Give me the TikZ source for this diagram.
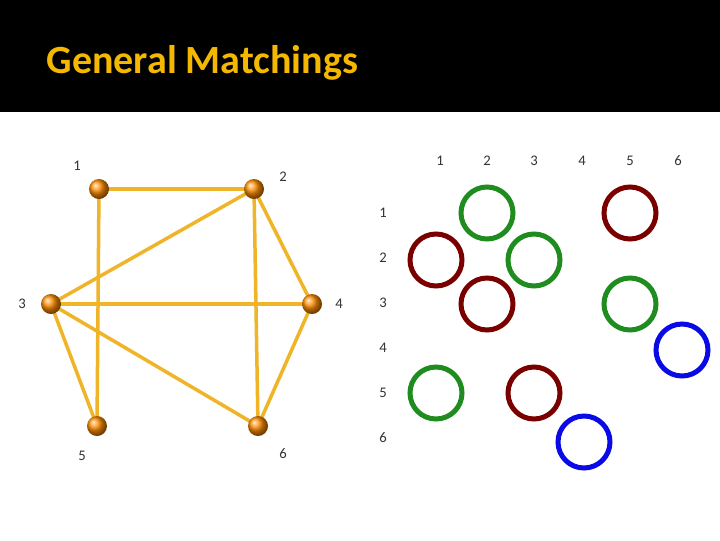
\documentclass[tikz,border=0pt]{standalone}
\usepackage{fontspec}
\setmainfont{Carlito}
\begin{document}
\begin{tikzpicture}[x=0.75pt,y=-0.75pt,
  vert/.style={circle,minimum size=20pt*0.75,inner sep=0pt,ball color=orange!90!yellow,draw=none},
  edge/.style={line width=3.5pt*0.75,draw=edgecol},
  lab/.style={font=\fontsize{11}{13}\selectfont,text=black!80},
  ring/.style={circle,minimum size=52pt*0.75,inner sep=0pt,line width=5pt*0.75,draw=#1}]
\definecolor{edgecol}{HTML}{F0B428}
\definecolor{titlecol}{HTML}{F5B800}
\definecolor{rg}{HTML}{1E8C1E}
\definecolor{rr}{HTML}{7A0000}
\definecolor{rb}{HTML}{0A0AE6}
\useasboundingbox (0,0) rectangle (720,540);
\fill[white] (0,0) rectangle (720,540);
\fill[black] (0,0) rectangle (720,112);
\node[anchor=west,text=titlecol,font=\bfseries\fontsize{30}{34}\selectfont] (title) at (42,63) {General Matchings};
\coordinate (p1) at (99,189); \coordinate (p2) at (254,189);
\coordinate (p3) at (51,304); \coordinate (p4) at (312,304);
\coordinate (p5) at (97,426); \coordinate (p6) at (258,426);
\foreach \a/\b in {p1/p2,p1/p5,p2/p3,p2/p4,p2/p6,p3/p4,p3/p5,p3/p6,p4/p6}
  \draw[edge] (\a) -- (\b);
\foreach \i in {1,...,6} \node[vert] (v\i) at (p\i) {};
\node[lab] (l1) at (77,166) {1};
\node[lab] (l2) at (283,177) {2};
\node[lab] (l3) at (22,304) {3};
\node[lab] (l4) at (339,304) {4};
\node[lab] (l5) at (82,456) {5};
\node[lab] (l6) at (283,454) {6};
\foreach \i/\x in {1/440,2/487,3/534,4/582,5/630,6/678}
  \node[lab] (c\i) at (\x,161) {\i};
\foreach \i/\y in {1/213,2/258,3/303,4/348,5/393,6/438}
  \node[lab] (r\i) at (383,\y) {\i};
\node[ring=rg] (m12) at (487,213) {};
\node[ring=rr] (m15) at (630,213) {};
\node[ring=rr] (m21) at (436,260) {};
\node[ring=rg] (m23) at (534,260) {};
\node[ring=rr] (m32) at (487,304) {};
\node[ring=rg] (m35) at (630,304) {};
\node[ring=rb] (m46) at (682,350) {};
\node[ring=rg] (m51) at (436,393) {};
\node[ring=rr] (m53) at (534,393) {};
\node[ring=rb] (m64) at (584,442) {};
\end{tikzpicture}
\end{document}
